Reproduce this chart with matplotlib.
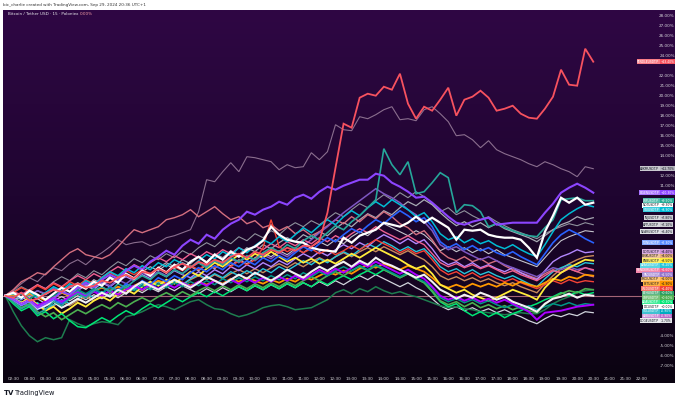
import matplotlib
matplotlib.use("Agg")
import matplotlib.pyplot as plt
import numpy as np
from matplotlib.colors import to_rgb

# ---------------- data (percent change, 15-minute steps from 02:15 to 20:30) ----------------
pendle = [0, -0.2, 0.3, -0.5, -0.3, 0.2, 0.6, 0.4, 0.9, 1.2,
          0.8, 1.0, 1.5, 1.3, 1.8, 2.1, 1.7, 2.4, 2.2, 2.7,
          2.3, 2.9, 3.2, 2.8, 3.4, 3.1, 3.6, 3.3, 3.9, 4.2,
          3.8, 4.4, 4.1, 4.6, 4.3, 4.8, 4.5, 5.0, 4.9, 5.5,
          8.3, 12.8, 17.2, 16.8, 19.8, 20.2, 20.0, 20.9, 20.6, 22.2,
          19.2, 17.7, 18.9, 18.5, 19.6, 20.8, 18.0, 19.6, 19.9, 20.5,
          19.8, 18.5, 18.7, 19.0, 18.2, 17.8, 17.7, 18.7, 19.9, 22.6,
          21.1, 21.0, 24.7, 23.4]
arkm = [0, 0.5, 1.2, 1.8, 1.4, 2.2, 2.8, 2.5, 3.2, 3.6,
        3.1, 3.8, 4.3, 4.9, 5.6, 5.1, 5.3, 5.4, 5.0, 5.3,
        5.8, 6.0, 6.3, 6.6, 8.4, 11.6, 11.4, 12.4, 13.3, 12.4,
        13.9, 13.8, 13.6, 13.4, 12.6, 13.1, 12.8, 12.9, 14.3, 13.6,
        14.4, 17.1, 16.6, 16.5, 17.9, 17.7, 18.1, 18.6, 18.9, 17.6,
        17.7, 17.5, 18.6, 18.9, 18.2, 17.4, 16.0, 16.1, 15.6, 14.8,
        15.5, 14.6, 14.2, 13.9, 13.6, 13.2, 12.9, 13.4, 13.1, 12.7,
        12.4, 11.9, 12.9, 12.7]
salmon = [0, 0.6, 1.4, 1.8, 2.3, 2.1, 2.9, 3.6, 4.3, 4.7,
          4.1, 3.9, 3.7, 4.1, 4.9, 5.8, 6.6, 6.3, 6.6, 6.9,
          7.6, 7.8, 8.1, 8.6, 7.9, 8.4, 8.9, 8.2, 7.6, 7.9,
          7.2, 7.5, 6.8, 7.1, 6.5, 6.9, 6.2, 6.6, 6.0, 6.4,
          7.0, 7.6, 7.2, 7.9, 7.4, 8.1, 7.7, 8.4, 7.9, 7.2,
          6.8, 6.1, 6.5, 5.6, 4.4, 3.8, 3.5, 3.9, 3.4, 3.7,
          3.2, 3.5, 3.0, 2.6, 2.3, 2.0, 1.7, 2.2, 2.6, 2.3,
          2.7, 2.4, 2.1, 1.9]
eigen = [0, -0.4, -0.9, -0.5, -1.2, -0.8, -0.3, 0.4, 0.1, 0.8,
         1.3, 0.9, 1.6, 2.1, 1.7, 2.5, 3.0, 2.6, 3.4, 3.9,
         4.5, 4.1, 5.0, 5.6, 5.2, 6.1, 5.7, 6.6, 7.2, 7.6,
         8.4, 8.1, 8.6, 8.9, 9.4, 9.1, 9.8, 10.1, 9.7, 10.4,
         10.9, 10.6, 11.0, 11.3, 11.6, 11.6, 12.2, 12.0, 11.3, 10.9,
         10.4, 9.8, 9.9, 9.3, 8.6, 7.9, 7.3, 7.1, 7.4, 7.6,
         7.8, 7.1, 7.2, 7.3, 7.3, 7.3, 7.3, 8.3, 9.2, 10.3,
         10.8, 11.2, 10.8, 10.3]
teal = [0, -0.6, -1.3, -0.9, -1.8, -1.4, -0.6, -1.0, -0.3, 0.2,
        -0.2, 0.5, 0.9, 0.4, 1.2, 0.8, 1.5, 2.0, 1.6, 2.3,
        1.9, 2.6, 2.2, 2.9, 3.3, 2.8, 3.5, 3.1, 3.8, 3.4,
        4.0, 3.6, 4.3, 4.8, 4.4, 5.1, 4.7, 5.5, 6.0, 5.6,
        6.3, 7.0, 6.6, 7.4, 8.0, 8.8, 9.6, 14.7, 13.1, 12.1,
        13.4, 10.2, 10.4, 11.3, 12.3, 11.8, 8.3, 9.1, 9.0, 8.4,
        6.9, 7.2, 6.8, 6.5, 6.2, 6.0, 5.9, 6.8, 7.6, 9.6,
        9.7, 9.8, 9.5, 9.5]
white_hi = [0, 0.3, -0.2, 0.5, 0.1, -0.4, 0.2, 0.8, 0.4, 1.1,
            0.7, 1.4, 1.0, 1.8, 1.3, 2.2, 1.7, 2.5, 2.0, 2.8,
            2.3, 3.1, 2.6, 3.4, 3.9, 3.3, 4.1, 3.6, 4.4, 3.9,
            4.6, 4.9, 5.5, 6.9, 6.1, 5.6, 5.4, 5.3, 4.8, 4.6,
            4.5, 4.4, 5.8, 5.3, 6.0, 6.3, 6.6, 7.3, 7.1, 6.9,
            7.3, 7.9, 7.3, 7.8, 7.3, 6.8, 5.6, 6.6, 6.5, 6.6,
            6.1, 5.9, 5.8, 5.8, 5.6, 4.8, 3.8, 6.4, 8.0, 9.8,
            9.3, 9.8, 9.1, 9.3]
white_lo = [0, -0.4, -0.9, -0.5, -1.3, -1.0, -0.6, -1.2, -0.8, -0.3,
            -0.7, -0.2, 0.3, -0.1, 0.6, 0.2, 0.9, 1.4, 1.0, 0.6,
            1.1, 1.6, 1.2, 0.8, 1.3, 1.9, 1.5, 1.1, 1.6, 2.1,
            1.7, 2.3, 1.9, 1.5, 2.0, 2.6, 2.2, 1.8, 2.4, 2.9,
            2.5, 3.0, 3.4, 2.9, 3.5, 3.1, 3.8, 3.3, 3.0, 2.6,
            2.2, 1.8, 2.1, 1.4, 0.6, 0.2, -0.3, 0.1, -0.2, 0.3,
            0.0, -0.4, -0.1, -0.6, -0.9, -1.2, -1.6, -0.8, -0.3, -0.1,
            0.2, -0.2, 0.1, 0.0]
cyan = [0, 0.2, -0.3, 0.4, -0.2, 0.3, 0.9, 0.5, 1.2, 0.8,
        1.5, 1.1, 1.8, 2.4, 2.0, 2.7, 2.3, 3.0, 2.6, 3.3,
        2.9, 3.6, 3.2, 2.8, 3.5, 4.1, 3.7, 4.4, 4.0, 4.8,
        4.3, 5.0, 5.6, 5.2, 5.9, 5.4, 6.1, 6.8, 6.3, 7.0,
        7.6, 7.1, 7.9, 8.5, 8.0, 8.8, 9.4, 8.9, 9.6, 9.1,
        8.6, 7.9, 8.3, 7.4, 6.2, 5.6, 5.9, 5.3, 5.7, 5.2,
        5.5, 5.0, 4.7, 5.1, 4.6, 4.2, 3.9, 5.1, 6.4, 7.6,
        8.2, 8.7, 9.1, 8.9]
gray1 = [0, -0.3, -0.8, -0.4, -1.1, -0.6, -0.2, 0.3, -0.1, 0.6,
         1.0, 0.6, 1.3, 0.9, 1.7, 2.2, 1.8, 2.5, 2.1, 2.8,
         3.3, 2.9, 3.6, 3.2, 3.9, 3.4, 4.2, 3.8, 4.5, 4.1,
         4.8, 4.4, 5.1, 4.7, 5.3, 5.8, 5.4, 6.1, 5.7, 6.4,
         6.0, 6.7, 7.3, 6.9, 7.6, 8.2, 7.8, 8.5, 8.1, 8.8,
         9.4, 9.0, 9.6, 9.1, 8.3, 7.6, 7.0, 7.4, 6.9, 7.3,
         6.8, 7.2, 6.7, 6.4, 6.1, 5.8, 5.4, 6.0, 6.6, 7.1,
         7.4, 7.9, 7.6, 7.8]
gray2 = [0, 0.4, 0.9, 0.5, 1.1, 0.7, 1.4, 1.9, 1.5, 2.2,
         1.8, 2.5, 2.1, 2.8, 3.4, 3.0, 3.7, 3.3, 4.0, 3.6,
         4.2, 3.8, 4.5, 4.1, 4.8, 5.3, 4.9, 5.6, 5.2, 5.9,
         5.5, 6.2, 5.8, 6.5, 6.1, 6.8, 7.3, 6.9, 7.5, 7.1,
         7.7, 8.3, 7.9, 8.6, 9.2, 8.8, 9.5, 10.1, 9.6, 10.3,
         9.8, 10.4, 9.9, 9.2, 8.4, 8.8, 8.1, 8.5, 8.0, 7.6,
         7.9, 7.4, 7.0, 6.6, 6.3, 6.0, 5.7, 6.2, 6.6, 6.9,
         7.2, 7.0, 7.3, 7.1]
gray3 = [0, -0.2, 0.3, -0.1, 0.5, 0.1, 0.6, 0.2, 0.8, 1.3,
         0.9, 1.6, 1.2, 1.9, 1.5, 2.1, 1.7, 2.4, 2.9, 2.5,
         3.1, 2.7, 3.3, 2.9, 2.5, 3.1, 2.7, 3.4, 3.0, 3.6,
         3.2, 3.8, 4.3, 3.9, 4.5, 4.1, 4.7, 4.3, 4.9, 5.4,
         5.0, 5.6, 5.2, 5.9, 6.4, 6.0, 6.7, 7.2, 6.8, 6.4,
         6.0, 6.5, 6.1, 5.4, 4.5, 4.9, 4.4, 4.8, 4.3, 4.7,
         4.2, 4.6, 4.1, 3.8, 3.5, 3.2, 2.9, 3.8, 4.7, 5.5,
         5.9, 6.2, 6.5, 6.4]
blue = [0, -0.5, -1.0, -0.6, -1.4, -0.9, -0.4, -0.8, -0.2, 0.4,
        0.0, 0.6, 0.2, 0.9, 0.5, 1.2, 0.8, 1.5, 1.1, 1.8,
        1.4, 2.0, 1.6, 2.3, 2.8, 2.4, 3.0, 2.6, 3.3, 2.9,
        3.5, 3.1, 3.8, 3.4, 4.0, 3.6, 4.3, 4.9, 4.5, 5.2,
        5.8, 5.4, 6.1, 6.7, 6.3, 7.0, 7.6, 7.2, 7.9, 8.5,
        8.0, 7.4, 7.8, 6.9, 5.4, 4.8, 5.2, 4.6, 5.0, 4.5,
        4.8, 4.3, 4.0, 4.4, 3.9, 3.5, 3.1, 4.2, 5.3, 6.1,
        6.6, 6.2, 5.7, 5.3]
violet = [0, 0.1, -0.4, 0.2, -0.3, 0.3, 0.7, 0.3, 0.9, 0.5,
          1.1, 0.7, 1.3, 0.9, 1.5, 1.9, 1.5, 2.1, 1.7, 2.3,
          1.9, 2.5, 2.1, 1.8, 2.4, 2.0, 2.6, 2.2, 2.9, 2.5,
          3.1, 2.7, 3.3, 2.9, 3.5, 3.1, 3.7, 4.2, 3.8, 4.4,
          4.0, 4.6, 5.1, 4.7, 5.3, 4.9, 5.6, 6.1, 5.7, 5.2,
          5.7, 5.2, 5.6, 4.7, 3.6, 3.1, 3.4, 2.9, 3.3, 2.8,
          3.1, 2.7, 2.4, 2.8, 2.3, 1.9, 1.6, 2.5, 3.4, 3.9,
          4.2, 4.6, 4.3, 4.4]
yellow = [0, -0.3, -0.7, -0.2, -0.9, -1.5, -1.1, -1.8, -1.3, -0.7,
          -1.1, -0.5, -0.1, -0.5, 0.2, 0.6, 0.2, 0.9, 1.4, 1.0,
          1.6, 1.2, 1.8, 2.4, 2.0, 2.7, 3.3, 2.9, 3.5, 4.1,
          3.6, 4.2, 3.8, 4.4, 3.9, 3.4, 3.8, 3.3, 3.7, 3.2,
          3.6, 3.2, 3.7, 4.2, 3.8, 4.3, 4.8, 4.4, 4.0, 3.6,
          3.1, 2.7, 3.0, 2.2, 1.1, 0.7, 0.3, 0.6, 0.1, -0.2,
          -0.5, -0.2, 0.2, 0.6, 0.3, 0.0, -0.4, 0.8, 1.6, 2.3,
          2.8, 3.2, 3.6, 3.5]
cyan2 = [0, -0.2, -0.6, -1.0, -0.7, -1.3, -0.9, -0.4, -0.8, -0.3,
         0.2, -0.2, 0.4, 0.0, 0.6, 1.0, 0.6, 1.2, 0.9, 1.4,
         1.0, 1.5, 1.1, 1.7, 2.1, 1.7, 2.2, 1.8, 2.4, 2.0,
         2.5, 2.1, 2.7, 2.3, 2.9, 2.5, 3.0, 3.5, 3.1, 3.7,
         3.3, 3.9, 4.4, 4.0, 4.6, 5.2, 4.8, 5.4, 5.0, 4.5,
         4.9, 4.4, 4.7, 3.9, 2.9, 2.4, 2.7, 2.2, 2.6, 2.1,
         2.4, 2.0, 1.7, 2.0, 1.6, 1.2, 0.9, 1.7, 2.4, 2.8,
         3.1, 2.9, 3.3, 3.2]
orange = [0, 0.1, -0.2, 0.2, -0.1, -0.5, -0.2, 0.3, 0.0, 0.4,
          0.1, 0.5, 0.8, 0.5, 0.9, 0.6, 1.0, 1.4, 1.1, 1.5,
          1.2, 1.6, 1.3, 1.0, 1.4, 1.1, 1.5, 1.2, 1.7, 1.4,
          1.8, 1.5, 1.2, 1.6, 1.3, 1.7, 1.4, 1.9, 1.6, 2.0,
          2.4, 2.1, 2.5, 2.2, 2.7, 3.1, 2.8, 3.2, 2.9, 2.6,
          3.0, 2.7, 2.4, 1.8, 1.1, 0.8, 1.1, 0.8, 1.2, 0.9,
          1.2, 0.9, 1.3, 1.0, 1.4, 1.1, 0.9, 1.3, 1.7, 1.5,
          1.9, 1.7, 2.1, 2.0]
red2 = [0, 0.3, 0.8, 0.4, 1.0, 0.6, 1.2, 0.8, 1.4, 1.0,
        1.6, 1.2, 1.8, 2.3, 1.9, 2.5, 2.1, 2.6, 2.2, 2.8,
        2.4, 2.9, 2.5, 3.0, 2.6, 3.2, 2.8, 3.3, 2.9, 3.5,
        3.1, 3.6, 4.8, 7.6, 4.9, 4.4, 4.8, 4.3, 4.7, 4.2,
        4.6, 4.1, 4.5, 5.0, 4.6, 5.1, 5.6, 5.2, 4.8, 4.3,
        4.7, 4.2, 4.5, 3.6, 2.6, 2.1, 2.4, 1.9, 2.3, 1.8,
        2.1, 1.7, 1.4, 1.7, 1.3, 1.0, 0.7, 1.1, 1.5, 1.2,
        1.6, 1.3, 1.5, 1.4]
green2 = [0, -0.6, -1.2, -0.8, -1.6, -2.1, -1.7, -2.4, -1.9, -1.4,
          -1.8, -1.3, -0.9, -1.3, -0.7, -1.1, -0.6, -0.2, -0.6, -0.1,
          0.3, -0.1, 0.4, 0.0, 0.5, 0.9, 0.5, 1.0, 0.6, 1.1,
          0.7, 1.2, 0.8, 1.3, 0.9, 1.4, 1.0, 1.5, 1.9, 1.5,
          2.0, 2.4, 2.0, 2.5, 2.9, 2.5, 3.0, 2.6, 2.2, 1.8,
          2.2, 1.7, 1.3, 0.5, -0.5, -0.9, -0.6, -1.1, -0.7, -1.2,
          -0.9, -1.3, -1.0, -1.4, -1.1, -1.5, -1.7, -0.9, -0.2, 0.2,
          0.5, 0.3, 0.7, 0.6]
magenta = [0, -0.3, -0.8, -0.4, -1.0, -0.6, -0.2, -0.6, -0.1, 0.3,
           -0.1, 0.4, 0.0, 0.5, 0.1, 0.6, 1.0, 0.6, 1.1, 0.7,
           1.2, 0.8, 1.3, 0.9, 1.4, 1.0, 1.5, 1.1, 1.6, 1.2,
           1.7, 1.3, 1.8, 1.4, 1.9, 1.5, 2.0, 1.6, 2.1, 2.6,
           2.2, 2.7, 2.3, 2.8, 3.3, 2.9, 3.4, 3.0, 2.6, 2.2,
           2.6, 2.1, 1.7, 0.9, 0.0, -0.4, -0.1, -0.5, -0.2, -0.6,
           -0.3, -0.7, -0.4, -0.8, -1.2, -1.6, -2.4, -1.7, -1.6, -1.5,
           -1.3, -1.1, -1.0, -0.9]
teal_dark = [0, -0.2, 0.2, -0.3, 0.1, -0.4, 0.0, 0.4, 0.1, 0.6,
             0.2, 0.7, 0.3, 0.8, 0.4, 0.9, 0.5, 1.0, 0.6, 1.2,
             0.8, 1.3, 0.9, 1.4, 1.0, 1.5, 1.1, 1.7, 1.3, 1.8,
             1.4, 1.9, 1.5, 2.0, 1.6, 2.1, 1.7, 2.3, 1.9, 2.4,
             2.0, 2.5, 2.9, 2.5, 3.0, 2.6, 3.1, 2.7, 2.3, 1.9,
             2.3, 1.8, 1.4, 0.8, -0.2, -0.6, -0.3, -0.7, -0.4, -0.8,
             -0.5, -0.9, -1.2, -0.9, -1.3, -1.0, -1.4, -1.1, -0.8, -1.0,
             -0.7, -1.0, -0.8, -0.9]
gray_light = [0, -0.4, -0.1, -0.6, -0.3, -0.8, -0.5, -0.1, -0.5, 0.0,
              -0.4, 0.1, -0.3, 0.2, -0.2, 0.3, 0.7, 0.3, 0.8, 0.4,
              0.9, 0.5, 1.0, 0.6, 0.2, 0.7, 0.3, 0.8, 0.4, 0.9,
              0.5, 1.0, 0.6, 1.1, 0.7, 1.2, 0.8, 1.3, 0.9, 1.4,
              1.0, 1.5, 1.1, 1.6, 2.0, 1.6, 2.1, 1.7, 1.3, 0.9,
              1.3, 0.8, 0.4, -0.3, -1.0, -1.4, -1.1, -1.5, -1.2, -1.6,
              -1.3, -1.7, -1.4, -1.8, -2.1, -2.5, -2.8, -2.3, -1.9, -2.1,
              -1.8, -2.0, -1.6, -1.7]
green_dark = [0, -1.6, -3.0, -4.0, -4.6, -4.2, -4.4, -4.2, -2.4, -2.8,
              -3.1, -2.8, -2.6, -2.7, -2.9, -2.1, -1.9, -1.6, -1.2, -0.9,
              -1.1, -1.4, -1.0, -0.6, -0.4, -0.9, -1.3, -1.4, -1.8, -2.1,
              -1.9, -1.6, -1.2, -1.0, -0.9, -1.1, -1.4, -1.3, -1.2, -0.8,
              -0.4, 0.3, 0.6, 0.2, 0.7, 0.4, 0.9, 0.5, 0.2, 0.4,
              0.1, -0.1, -0.4, -0.7, -1.0, -1.2, -1.1, -1.3, -1.4, -1.6,
              -1.7, -1.8, -1.9, -1.8, -1.7, -1.8, -1.8, -1.4, -0.8, -0.4,
              -0.1, 0.3, 0.5, 0.6]
green_bright = [0, -0.8, -1.5, -1.1, -2.0, -1.6, -2.3, -1.8, -2.5, -3.1,
                -3.2, -2.7, -2.2, -2.6, -2.0, -1.5, -1.9, -1.3, -0.8, -1.2,
                -0.7, -0.2, -0.6, -0.1, 0.3, -0.1, 0.4, 0.0, 0.5, 0.9,
                0.5, 1.0, 0.6, 1.1, 0.7, 1.2, 0.8, 1.3, 0.9, 1.5,
                1.1, 1.6, 2.0, 1.6, 2.1, 2.5, 2.1, 2.6, 2.2, 1.8,
                2.2, 1.7, 1.3, 0.4, -0.6, -1.1, -0.8, -1.5, -2.0, -1.6,
                -2.1, -1.7, -2.2, -1.8, -1.5, -1.1, -0.8, -0.4, -0.1, 0.3,
                0.0, 0.4, 0.1, 0.3]
pink = [0, 0.4, 0.1, 0.6, 1.1, 0.7, 1.3, 0.9, 1.5, 2.0,
        1.6, 2.2, 1.8, 2.4, 2.9, 2.5, 3.1, 2.7, 3.3, 3.8,
        3.4, 4.0, 3.6, 4.2, 3.8, 4.4, 4.0, 4.6, 4.2, 4.8,
        4.4, 5.0, 4.6, 5.2, 4.8, 5.4, 5.0, 5.6, 5.2, 5.8,
        5.4, 6.0, 5.6, 6.2, 6.7, 6.3, 6.9, 6.4, 6.0, 5.6,
        6.0, 5.5, 5.1, 4.2, 3.3, 2.9, 3.2, 2.8, 3.1, 2.7,
        3.0, 2.6, 2.2, 2.5, 2.1, 1.8, 1.5, 2.0, 2.5, 2.3,
        2.7, 2.4, 2.8, 2.6]
deep_purple = [0, -0.1, 0.3, 0.0, 0.5, 0.2, 0.8, 0.4, 1.0, 0.6,
               1.2, 0.8, 1.4, 1.0, 1.6, 1.2, 1.8, 2.3, 1.9, 2.4,
               2.0, 2.6, 2.2, 2.8, 3.3, 2.9, 3.5, 3.1, 3.7, 3.3,
               3.9, 3.5, 4.1, 3.7, 4.3, 3.9, 4.5, 5.0, 5.6, 6.3,
               6.9, 7.6, 8.3, 8.9, 9.5, 10.1, 10.7, 10.2, 9.8, 9.3,
               8.6, 8.1, 7.4, 6.5, 5.1, 4.6, 4.9, 4.4, 4.0, 3.6,
               3.9, 3.5, 3.1, 2.8, 2.5, 2.2, 1.9, 2.4, 2.8, 2.6,
               2.9, 2.6, 2.8, 2.5]
brown = [0, -0.3, -0.7, -1.1, -0.8, -1.4, -1.0, -0.6, -1.0, -0.5,
         -0.1, -0.5, 0.0, 0.4, 0.0, 0.5, 0.9, 0.5, 1.0, 1.4,
         1.0, 1.5, 1.1, 1.6, 2.0, 1.6, 2.1, 1.7, 2.2, 2.6,
         2.2, 2.7, 2.3, 2.8, 3.2, 2.8, 3.3, 2.9, 3.4, 3.8,
         3.4, 3.9, 4.3, 3.9, 4.4, 4.8, 4.4, 4.9, 4.5, 4.1,
         4.5, 4.0, 3.6, 2.9, 2.0, 1.6, 1.9, 1.5, 1.8, 1.4,
         1.7, 1.3, 1.0, 1.3, 0.9, 0.6, 0.3, 1.2, 2.0, 2.7,
         3.2, 3.6, 3.9, 4.0]

time_labels = ["02:30", "03:00", "03:30", "04:00", "04:30", "05:00", "05:30", "06:00",
               "06:30", "07:00", "07:30", "08:00", "08:30", "09:00", "09:30", "10:00",
               "10:30", "11:00", "11:30", "12:00", "12:30", "13:00", "13:30", "14:00",
               "14:30", "15:00", "15:30", "16:00", "16:30", "17:00", "17:30", "18:00",
               "18:30", "19:00", "19:30", "20:00", "20:30", "21:00", "21:30", "22:00"]
pct_ticks = list(range(28, -8, -1))

# (values, line colour, width, symbol name, label colour)
series = [
    (gray2, "#8f929c", 0.8, "APTUSDT.P", "#c9cbd1"),
    (gray3, "#c4c4cc", 0.8, "NEARUSDT.P", "#d6d7dc"),
    (gray1, "#a8abb4", 0.9, "INJUSDT.P", "#c9cbd1"),
    (gray_light, "#d1d4dc", 0.9, "DOGEUSDT.P", "#e4e5ea"),
    (arkm, "#8a6e8e", 0.8, "ARKMUSDT.P", "#b7b7bf"),
    (salmon, "#d46f7f", 1.0, "FETUSDT.P", "#ff9800"),
    (brown, "#c98b5b", 1.0, "LINKUSDT.P", "#e8b07a"),
    (cyan2, "#26c6da", 1.0, "AVAXUSDT.P", "#26c6da"),
    (violet, "#b388ff", 1.0, "DOTUSDT.P", "#ce93d8"),
    (deep_purple, "#7e57c2", 1.1, "TAOUSDT.P", "#9575cd"),
    (pink, "#f06292", 1.0, "RENDERUSDT.P", "#f06292"),
    (red2, "#f44336", 1.0, "WLDUSDT.P", "#f44336"),
    (orange, "#ff9800", 1.3, "ORDIUSDT.P", "#ffb74d"),
    (yellow, "#ffeb3b", 1.3, "BNBUSDT.P", "#ffeb3b"),
    (blue, "#2962ff", 1.2, "TONUSDT.P", "#5b8cff"),
    (cyan, "#00bcd4", 1.1, "SUIUSDT.P", "#00bcd4"),
    (green_dark, "#1e7d4f", 1.1, "ETHUSDT.P", "#2e9e62"),
    (green_bright, "#00e676", 1.1, "ADAUSDT.P", "#00e676"),
    (green2, "#4caf50", 1.2, "XRPUSDT.P", "#4caf50"),
    (teal_dark, "#009688", 1.1, "SOLUSDT.P", "#00acc1"),
    (magenta, "#aa00ff", 1.4, "ARBUSDT.P", "#ba68c8"),
    (white_lo, "#f2f2f2", 1.5, "LTCUSDT.P", "#ffffff"),
    (teal, "#26a69a", 1.2, "WIFUSDT.P", "#22ab94"),
    (eigen, "#8c45ff", 1.5, "EIGENUSDT.P", "#8c45ff"),
    (white_hi, "#ffffff", 1.6, "NOTUSDT.P", "#ffffff"),
    (pendle, "#f7525f", 1.3, "PENDLEUSDT.P", "#f7525f"),
]

# ---------------- geometry (pixel layout of the TradingView panel) ----------------
W, H = 680, 401
PX0, PX1, PY0, PY1 = 3, 675, 10, 383          # panel box in pixels
X0_PX, STEP_PX = 5.25, 8.055                  # first bar and bar spacing
ZERO_PX, PCT_PX = 295.7, 10.0                 # y of 0 % and pixels per 1 %

fig = plt.figure(figsize=(W / 100, H / 100), dpi=100)
fig.patch.set_facecolor("white")
ax = fig.add_axes([PX0 / W, 1 - PY1 / H, (PX1 - PX0) / W, (PY1 - PY0) / H])
xlo, xhi = (PX0 - X0_PX) / STEP_PX, (PX1 - X0_PX) / STEP_PX
ylo, yhi = (ZERO_PX - PY1) / PCT_PX, (ZERO_PX - PY0) / PCT_PX
ax.set_xlim(xlo, xhi)
ax.set_ylim(ylo, yhi)
ax.axis("off")

# gradient background
top = np.array(to_rgb("#2f0744"))
mid = np.array(to_rgb("#1f0530"))
bot = np.array(to_rgb("#0a0310"))
t = np.linspace(0, 1, 256)[:, None]
grad = np.where(t < 0.5, top + (mid - top) * (t / 0.5), mid + (bot - mid) * ((t - 0.5) / 0.5))
ax.imshow(grad[:, None, :].repeat(2, axis=1), extent=[xlo, xhi, ylo, yhi],
          aspect="auto", zorder=0, interpolation="bilinear")

# zero line
ax.axhline(0, color="#a46476", lw=0.8, zorder=1)

for vals, col, lw, name, lcol in series:
    ax.plot(np.arange(len(vals)), vals, color=col, lw=lw, zorder=2,
            solid_joinstyle="miter")

# end-of-line labels with simple stacking
ends = sorted(series, key=lambda s: -s[0][-1])
prev = None
gap = 0.46
label_y = []
xsplit = (660 - X0_PX) / STEP_PX
for vals, col, lw, name, lcol in ends:
    yv = vals[-1]
    if prev is not None and yv > prev - gap:
        yv = prev - gap
    prev = yv
    label_y.append(yv)
    r, g, b = to_rgb(lcol)
    lum = 0.299 * r + 0.587 * g + 0.114 * b
    tc = "#131722" if lum > 0.6 else "white"
    light = tuple(c + (1 - c) * 0.25 for c in (r, g, b))
    ax.text(xsplit - 0.1, yv, name, fontsize=2.2, color=tc, ha="right", va="center",
            zorder=5, bbox=dict(boxstyle="square,pad=0.18", fc=light, ec="none"))
    ax.text(xsplit + 0.1, yv, f"{vals[-1]:+.2f}%", fontsize=2.2, color=tc,
            ha="left", va="center", zorder=5,
            bbox=dict(boxstyle="square,pad=0.18", fc=(r, g, b), ec="none"))

# price scale labels (hidden where a symbol label sits, as on TradingView)
xlab = (667 - X0_PX) / STEP_PX
for p in pct_ticks:
    if any(abs(p - ly) < 0.6 for ly in label_y):
        continue
    ax.text(xlab, p, f"{p:.2f}%", color="#d8d8dc", fontsize=3.0,
            ha="center", va="center", zorder=3)

# time labels
ytime = (ZERO_PX - 379) / PCT_PX
for k, lab in enumerate(time_labels):
    ax.text(1 + 2 * k, ytime, lab, color="#d8d8dc", fontsize=3.0,
            ha="center", va="center", zorder=3)

# panel title
ax.text((8 - X0_PX) / STEP_PX, (ZERO_PX - 14) / PCT_PX,
        "Bitcoin / Tether USD · 15 · Poloniex", color="#e8e8ec", fontsize=3.0,
        ha="left", va="center", zorder=4)
ax.text((80 - X0_PX) / STEP_PX, (ZERO_PX - 14) / PCT_PX, "0.00%",
        color="#f7a0a8", fontsize=3.0, ha="left", va="center", zorder=4)

# header / footer
fig.text(3 / W, 1 - 5 / H, "bic_charlie created with TradingView.com, Sep 29, 2024 20:36 UTC+1",
         fontsize=3.0, color="#333333", ha="left", va="center")
fig.text(4 / W, 1 - 393 / H, "TV", fontsize=5.0, color="#131722", ha="left",
         va="center", fontweight="bold")
fig.text(15 / W, 1 - 393 / H, "TradingView", fontsize=4.8, color="#131722",
         ha="left", va="center")

fig.savefig("out.png", dpi=100, facecolor="white")
